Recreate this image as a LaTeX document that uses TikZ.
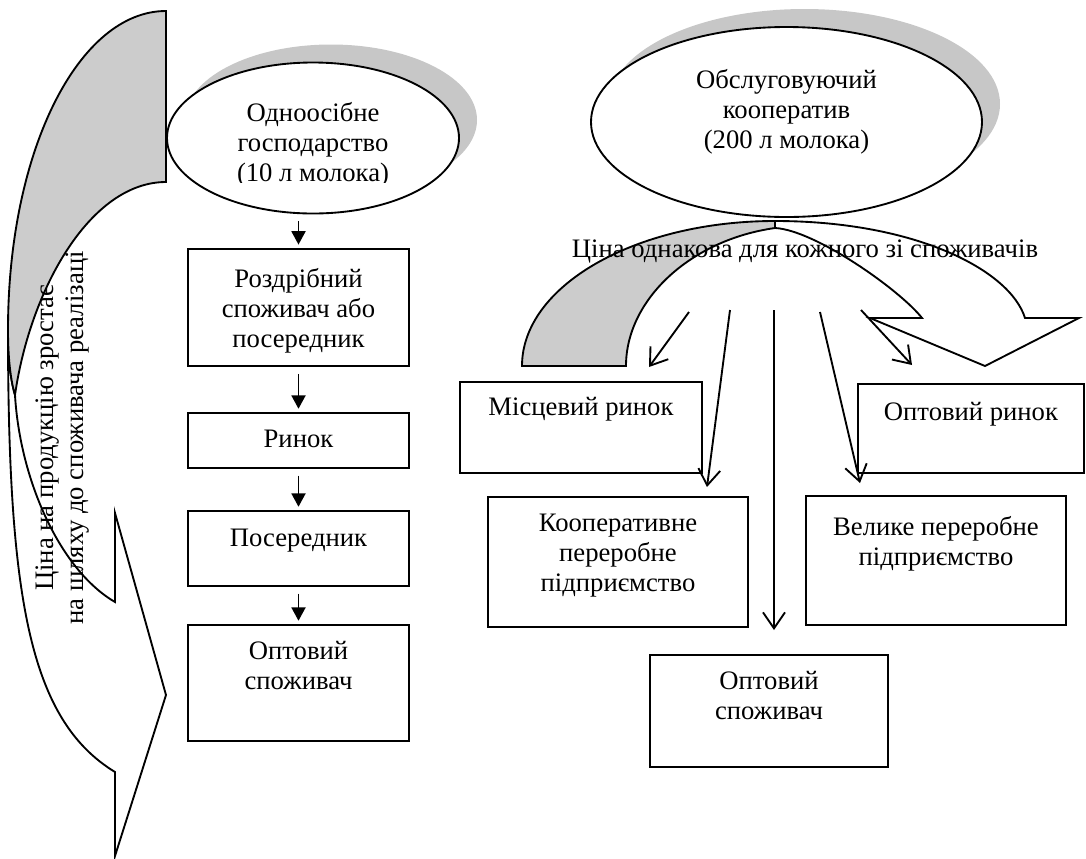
\documentclass[tikz,border=0pt]{standalone}
\usepackage{fontspec}
\setmainfont{Liberation Serif}
\usetikzlibrary{arrows.meta,shapes.geometric}
\definecolor{bandgray}{gray}{0.8}
\definecolor{shadowgray}{gray}{0.78}

\tikzset{every picture/.style={line width=1.4pt}}
\tikzset{
  txt/.style={font=\fontsize{20}{22.5}\selectfont, align=center, inner sep=0pt},
  box/.style={draw, rectangle, fill=white, inner sep=0pt},
  ell/.style={draw, ellipse, fill=white, inner sep=0pt},
  flow/.style={-{Triangle[length=10pt,width=10.5pt]}, shorten <=5pt, shorten >=2.5pt},
  spread/.style={-{Straight Barb[length=12pt,width=16.5pt]}},
}

\begin{document}
\begin{tikzpicture}[x=0.75pt,y=0.75pt,yscale=-1,xscale=1]
\useasboundingbox (0,0) rectangle (1086,858);
%Shape: Curved Right Arrow (front)
\draw [fill=white] (8,330) .. controls (8,600) and (30,720) .. (115,772) -- (115,856) -- (166,695) -- (115,513) -- (115,602) .. controls (60,570) and (20,480) .. (15,395) .. controls (12,385) and (8,365) .. (8,330) -- cycle ;
%Shape: Curved Right Arrow (back)
\draw [fill=bandgray] (166,11) .. controls (79,11) and (8,150) .. (8,330) .. controls (8,365) and (12,385) .. (15,395) .. controls (30,290) and (90,182) .. (166,182) -- cycle ;
%Shape: Curved Down Arrow (front)
\draw [fill=white] (775,221) .. controls (915,221) and (1010,270) .. (1025,318) -- (1079,318) -- (985,366) -- (870,318) -- (922,318) .. controls (900,290) and (815,230) .. (775,228) -- cycle ;
%Shape: Curved Down Arrow (back)
\draw [fill=bandgray] (522,366) .. controls (522,286) and (635,221) .. (775,221) -- (775,228) .. controls (690,240) and (626,300) .. (626,366) -- cycle ;

%Shape: Ellipse shadows
\fill [shadowgray] (331,120) ellipse [x radius=146, y radius=75.5] ;
\fill [shadowgray] (804.5,104) ellipse [x radius=195.5, y radius=95] ;
%Shape: Ellipse
\node [ell, minimum width=219pt, minimum height=113.25pt] (farm) at (313,138) {};
%Shape: Ellipse
\node [ell, minimum width=293.25pt, minimum height=142.5pt] (coopell) at (786.5,122) {};

%Shape: Rectangle (left chain)
\node [box, minimum width=165.75pt, minimum height=88pt] (roz) at (298.5,307.5) {};
\node [box, minimum width=165.75pt, minimum height=41.25pt] (rynok) at (298.5,440.5) {};
\node [box, minimum width=165.75pt, minimum height=56.25pt] (poser) at (298.5,548.5) {};
\node [box, minimum width=165.75pt, minimum height=87pt] (optcons) at (298.5,683) {};
%Shape: Rectangle (cooperative side)
\node [box, minimum width=181.5pt, minimum height=68.25pt] (loc) at (581,427.5) {};
\node [box, minimum width=195pt, minimum height=97.5pt] (coop) at (618,562) {};
\node [box, minimum width=169.5pt, minimum height=66.75pt] (whmarket) at (971,428.5) {};
\node [box, minimum width=195pt, minimum height=96.75pt] (big) at (936,560.5) {};
\node [box, minimum width=178.5pt, minimum height=84pt] (whcons) at (769,711) {};

%Straight Lines (left chain)
\draw [flow, shorten <=5pt] (farm.south -| roz.north) -- (roz.north) ;
\draw [flow] (roz) -- (rynok) ;
\draw [flow] (rynok) -- (poser) ;
\draw [flow] (poser) -- (optcons) ;

%Straight Lines (spread)
\coordinate (s1) at (689,312) ; \coordinate (e1) at (649,367) ;
\coordinate (s2) at (730,310) ; \coordinate (e2) at (707,487) ;
\coordinate (s3) at (774,310) ; \coordinate (e3) at (774,630) ;
\coordinate (s4) at (820,312) ; \coordinate (e4) at (860,483) ;
\coordinate (s5) at (861,310) ; \coordinate (e5) at (912,365) ;
\foreach \i in {1,...,5} {
  \draw [spread] (s\i) -- (e\i) ;
}

% Text Node
\begin{scope}
\clip (0,0) rectangle (1086,182) ;
\node [txt, anchor=north] (farmtxt) at (313,101) {Одноосібне\\господарство\\(10 л молока)};
\end{scope}
% Text Node
\node [txt, anchor=north] (coopelltxt) at (786.5,68) {Обслуговуючий\\кооператив\\(200 л молока)};
% Text Node
\node [txt, anchor=north] (roztxt) at (298.5,267) {Роздрібний\\споживач або\\посередник};
\node [txt, anchor=north] (rynoktxt) at (298.5,429) {Ринок};
\node [txt, anchor=north] (posertxt) at (298.5,528) {Посередник};
\node [txt, anchor=north] (optconstxt) at (298.5,640) {Оптовий\\споживач};
% Text Node
\node [txt, anchor=north] (loctxt) at (581,396) {Місцевий ринок};
\node [txt, anchor=north] (cooptxt) at (618,513) {Кооперативне\\переробне\\підприємство};
\node [txt, anchor=north] (whmarkettxt) at (971,401) {Оптовий ринок};
\node [txt, anchor=north] (bigtxt) at (936,515) {Велике переробне\\підприємство};
\node [txt, anchor=north] (whconstxt) at (769,670) {Оптовий\\споживач};
% Text Node
\node [txt, anchor=north] (pricetxt) at (805,239) {Ціна однакова для кожного зі споживачів};
% Text Node
\node [txt, rotate=90] (risetxt) at (62.5,438) {Ціна на продукцію зростає\\на шляху до споживача реалізаці};
\end{tikzpicture}
\end{document}
